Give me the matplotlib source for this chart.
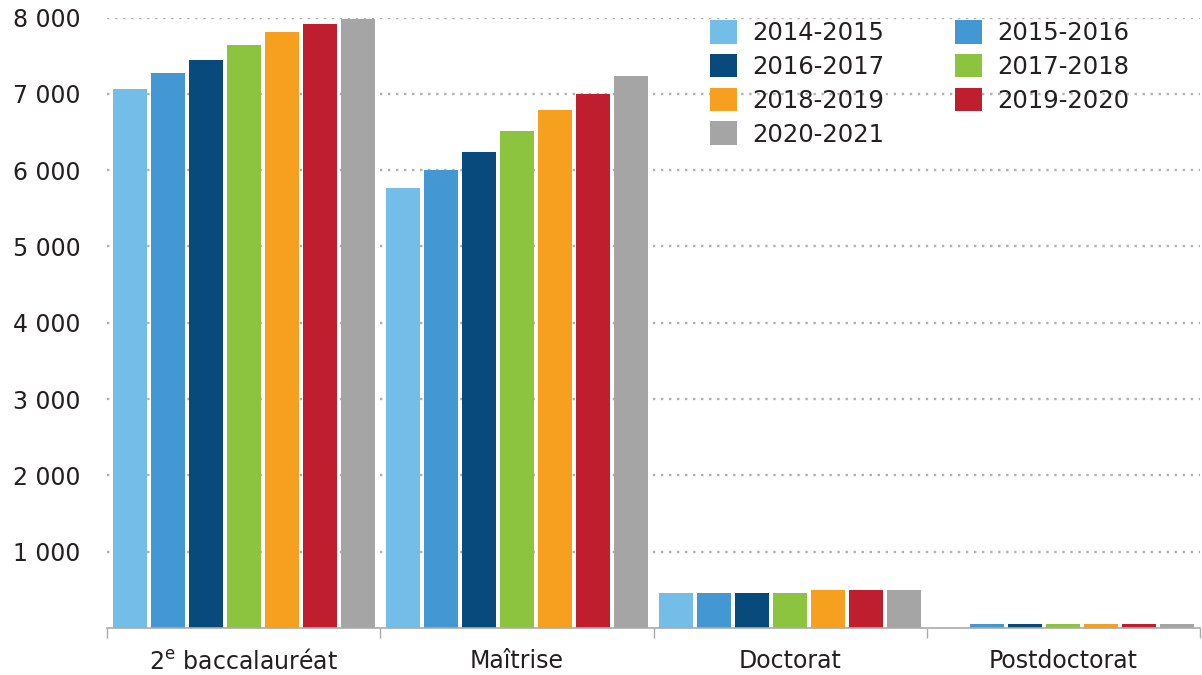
import matplotlib
matplotlib.use("Agg")
import matplotlib.pyplot as plt
from matplotlib.patches import Patch
import numpy as np

categories = ["2$^{\\mathregular{e}}$ baccalauréat", "Maîtrise", "Doctorat", "Postdoctorat"]
years = ["2014-2015", "2015-2016", "2016-2017", "2017-2018", "2018-2019", "2019-2020", "2020-2021"]
colors = ["#74bde8", "#4398d3", "#084a7b", "#8cc33f", "#f79f1e", "#be1e2d", "#a6a5a6"]
values = {
    "2014-2015": [7060, 5765, 460, 0],
    "2015-2016": [7270, 6000, 460, 50],
    "2016-2017": [7440, 6235, 460, 50],
    "2017-2018": [7640, 6510, 460, 50],
    "2018-2019": [7810, 6790, 500, 50],
    "2019-2020": [7915, 7000, 500, 50],
    "2020-2021": [7980, 7230, 500, 50],
}
yticks = [1000, 2000, 3000, 4000, 5000, 6000, 7000, 8000]
ytick_labels = ["1 000", "2 000", "3 000", "4 000", "5 000", "6 000", "7 000", "8 000"]

plt.rcParams['font.family'] = ['DejaVu Sans']
plt.rcParams['mathtext.fontset'] = 'dejavusans'
TXT = "#231f20"

W, H = 1202, 675
fig = plt.figure(figsize=(W / 100, H / 100), dpi=100)
ax = fig.add_axes([107 / W, (H - 628) / H, (1200 - 107) / W, (628 - 17.5) / H])

x = np.arange(len(categories))
slot = 38 / 273.3
bw = 34 / 273.3
for i, (yr, c) in enumerate(zip(years, colors)):
    ax.bar(x + (i - 3) * slot, values[yr], width=bw, color=c, zorder=3, label=yr)

ax.set_xlim(-0.5, 3.5)
ax.set_ylim(0, 8000)
ax.set_yticks(yticks)
ax.set_yticklabels(ytick_labels, fontsize=17, color=TXT)
ax.tick_params(axis='y', length=0, pad=19)
ax.yaxis.grid(True, color="#b0b0b0", linestyle=(0, (1, 2.4)), linewidth=1.7, zorder=0)
ax.set_axisbelow(True)

ax.set_xticks(x)
ax.set_xticklabels(categories, fontsize=17, color=TXT)
ax.tick_params(axis='x', which='major', length=0, pad=15)
ax.set_xticks(np.arange(-0.5, 4.0, 1.0), minor=True)
ax.tick_params(axis='x', which='minor', length=7, width=1, color="#aaaaaa", direction='out')

for s in ["top", "right", "left"]:
    ax.spines[s].set_visible(False)
ax.spines["bottom"].set_color("#aaaaaa")
ax.spines["bottom"].set_linewidth(1.2)
ax.spines["bottom"].set_zorder(4)

order = [0, 2, 4, 6, 1, 3, 5]
handles = [Patch(facecolor=colors[k], edgecolor='none') for k in order]
labels = [years[k] for k in order]
fig.legend(handles, labels, ncol=2, loc='upper left',
           bbox_to_anchor=(710 / W, 1 - 20 / H), frameon=False, borderpad=0,
           borderaxespad=0, fontsize=17.5, handlelength=1.12, handleheight=1.12,
           handletextpad=0.62, labelspacing=0.36, columnspacing=2.9, labelcolor=TXT)

fig.savefig("out.png", dpi=100, facecolor="white")
